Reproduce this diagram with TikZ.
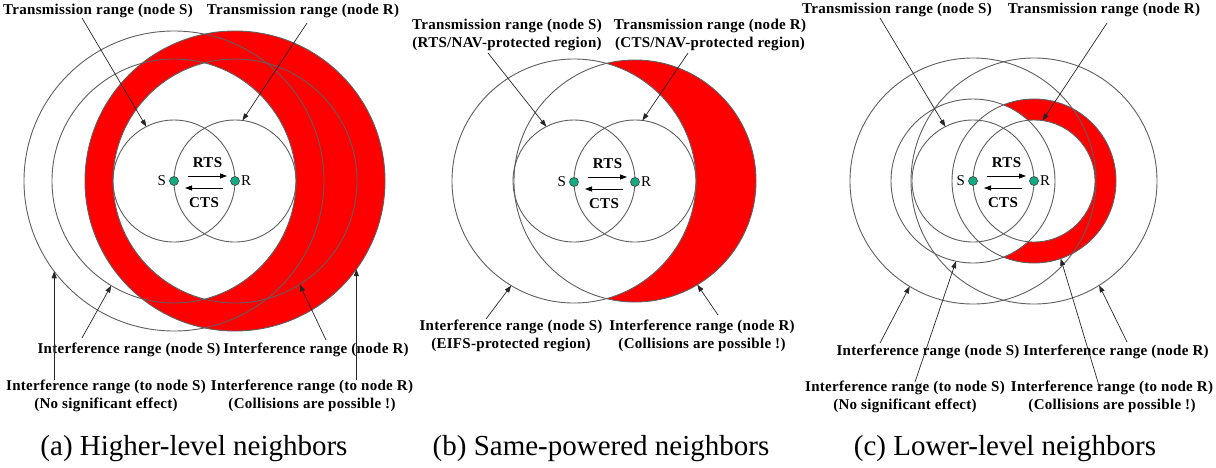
\documentclass[tikz,border=0pt]{standalone}
\usepackage{fontspec}
\setmainfont{Liberation Serif}
\newfontfamily\lblfont[LetterSpace=2]{Liberation Serif}
\usetikzlibrary{positioning,arrows.meta}
\definecolor{rred}{RGB}{255,0,0}
\definecolor{cgray}{RGB}{95,95,95}
\definecolor{dgreen}{RGB}{20,170,130}
\tikzset{
  rng/.style={circle, draw=cgray, line width=0.9pt, inner sep=0pt, outer sep=0pt},
  nd/.style={circle, draw=black!75, fill=dgreen, line width=0.6pt, inner sep=0pt, minimum size=9pt},
  arr/.style={-{Triangle[length=7pt,width=5pt]}, black!85, line width=0.7pt},
  msg/.style={-{Triangle[length=7pt,width=5pt]}, black, line width=0.8pt},
  lbl/.style={font=\lblfont\bfseries\fontsize{15}{18}\selectfont, align=center, inner sep=0pt},
  sr/.style={font=\fontsize{15}{18}\selectfont, inner sep=1pt},
  capt/.style={font=\fontsize{29}{34}\selectfont, inner sep=0pt},
  panels/.style={x=1pt, y=-1pt}
}
\begin{document}
\begin{tikzpicture}[panels]
  \useasboundingbox (0,0) rectangle (1216,467);
  % (a) higher-level neighbors
  \fill[rred] (235,181) circle (150pt);
  \begin{scope}
    \clip (174,181) circle (122pt);
    \fill[white] (235,181) circle (122pt);
  \end{scope}
  \node[rng, minimum size=122pt] (aSTx) at (174,181) {};
  \node[rng, minimum size=122pt] (aRTx) at (235,181) {};
  \node[rng, minimum size=244pt] (aSIf) at (174,181) {};
  \node[rng, minimum size=244pt] (aRIf) at (235,181) {};
  \node[rng, minimum size=300pt] (aSTo) at (174,181) {};
  \node[rng, minimum size=300pt] (aRTo) at (235,181) {};
  \node[nd] (aS) at (174,181) {};
  \node[nd] (aR) at (235,181) {};
  \node[sr, left=2pt of aS] {S};
  \node[sr, right=0pt of aR] {R};
  \draw[msg] ([xshift=14pt,yshift=5pt]aS.center) -- node[lbl, above=8pt] {RTS} ([xshift=-8pt,yshift=5pt]aR.center);
  \draw[msg] ([xshift=-12pt,yshift=-7pt]aR.center) -- node[lbl, below=9pt] {CTS} ([xshift=11pt,yshift=-7pt]aS.center);
  \node[lbl] (aTxSl) at (98,11) {Transmission range (node S)};
  \node[lbl] (aTxRl) at (303,11) {Transmission range (node R)};
  \node[lbl] (aIfSl) at (129,350) {Interference range (node S)};
  \node[lbl] (aIfRl) at (316,350) {Interference range (node R)};
  \node[lbl] (aToSl) at (106,396) {Interference range (to node S)\\(No significant effect)};
  \node[lbl] (aToRl) at (312,396) {Interference range (to node R)\\(Collisions are possible !)};
  \coordinate (aTxSt) at (82,18);
  \coordinate (aTxRt) at (307,23);
  \coordinate (aIfSt) at (82,338);
  \coordinate (aIfRt) at (326,340);
  \draw[arr] (aTxSt) -- (aSTx.117);
  \draw[arr] (aTxRt) -- (aRTx.83);
  \draw[arr] (aIfSt) -- (aSIf.239);
  \draw[arr] (aIfRt) -- (aRIf.302);
  \draw[arr] (aSTo.217 |- aToSl.north) -- (aSTo.217);
  \draw[arr] (aRTo.324 |- aToRl.north) -- (aRTo.324);
  \node[capt] (aCap) at (194,449) {(a) Higher-level neighbors};

  % (b) same-powered neighbors
  \fill[rred] (635,181) circle (121pt);
  \fill[white] (574,181) circle (122pt);
  \node[rng, minimum size=122pt] (bSTx) at (574,181) {};
  \node[rng, minimum size=122pt] (bRTx) at (635,181) {};
  \node[rng, minimum size=244pt] (bSIf) at (574,181) {};
  \node[rng, minimum size=242pt] (bRIf) at (635,181) {};
  \node[nd] (bS) at (574,182) {};
  \node[nd] (bR) at (635,182) {};
  \node[sr, left=2pt of bS] {S};
  \node[sr, right=0pt of bR] {R};
  \draw[msg] ([xshift=14pt,yshift=5pt]bS.center) -- node[lbl, above=8pt] {RTS} ([xshift=-8pt,yshift=5pt]bR.center);
  \draw[msg] ([xshift=-12pt,yshift=-7pt]bR.center) -- node[lbl, below=9pt] {CTS} ([xshift=11pt,yshift=-7pt]bS.center);
  \node[lbl] (bTxSl) at (507,35) {Transmission range (node S)\\(RTS/NAV-protected region)};
  \node[lbl] (bTxRl) at (710,35) {Transmission range (node R)\\(CTS/NAV-protected region)};
  \node[lbl] (bIfSl) at (511,336) {Interference range (node S)\\(EIFS-protected region)};
  \node[lbl] (bIfRl) at (702,336) {Interference range (node R)\\(Collisions are possible !)};
  \coordinate (bTxSt) at (488,53);
  \coordinate (bTxRt) at (688,53);
  \coordinate (bIfSt) at (486,319);
  \coordinate (bIfRt) at (718,315);
  \draw[arr] (bTxSt) -- (bSTx.117);
  \draw[arr] (bTxRt) -- (bRTx.83);
  \draw[arr] (bIfSt) -- (bSIf.239);
  \draw[arr] (bIfRt) -- (bRIf.301);
  \node[capt] (bCap) at (601,449) {(b) Same-powered neighbors};

  % (c) lower-level neighbors
  \fill[rred] (1034,181) circle (82pt);
  \fill[white] (973,181) circle (82pt);
  \fill[white] (1034,181) circle (61pt);
  \node[rng, minimum size=122pt] (cSTx) at (973,181) {};
  \node[rng, minimum size=122pt] (cRTx) at (1034,181) {};
  \node[rng, minimum size=164pt] (cSTo) at (973,181) {};
  \node[rng, minimum size=164pt] (cRTo) at (1034,181) {};
  \node[rng, minimum size=246pt] (cSIf) at (973,181) {};
  \node[rng, minimum size=246pt] (cRIf) at (1034,181) {};
  \node[nd] (cS) at (973,181) {};
  \node[nd] (cR) at (1034,181) {};
  \node[sr, left=2pt of cS] {S};
  \node[sr, right=0pt of cR] {R};
  \draw[msg] ([xshift=14pt,yshift=5pt]cS.center) -- node[lbl, above=8pt] {RTS} ([xshift=-8pt,yshift=5pt]cR.center);
  \draw[msg] ([xshift=-12pt,yshift=-7pt]cR.center) -- node[lbl, below=9pt] {CTS} ([xshift=11pt,yshift=-7pt]cS.center);
  \node[lbl] (cTxSl) at (897,10) {Transmission range (node S)};
  \node[lbl] (cTxRl) at (1104,10) {Transmission range (node R)};
  \node[lbl] (cIfSl) at (928,352) {Interference range (node S)};
  \node[lbl] (cIfRl) at (1116,352) {Interference range (node R)};
  \node[lbl] (cToSl) at (905,397) {Interference range (to node S)\\(No significant effect)};
  \node[lbl] (cToRl) at (1112,397) {Interference range (to node R)\\(Collisions are possible !)};
  \coordinate (cTxSt) at (880,18);
  \coordinate (cTxRt) at (1107,23);
  \coordinate (cIfSt) at (880,343);
  \coordinate (cIfRt) at (1127,342);
  \coordinate (cToSt) at (915,382);
  \coordinate (cToRt) at (1100,389);
  \draw[arr] (cTxSt) -- (cSTx.117);
  \draw[arr] (cTxRt) -- (cRTx.82);
  \draw[arr] (cIfSt) -- (cSIf.239);
  \draw[arr] (cIfRt) -- (cRIf.302);
  \draw[arr] (cToSt) -- (cSTo.258);
  \draw[arr] (cToRt) -- (cRTo.289);
  \node[capt] (cCap) at (1005,449) {(c) Lower-level neighbors};
\end{tikzpicture}
\end{document}
